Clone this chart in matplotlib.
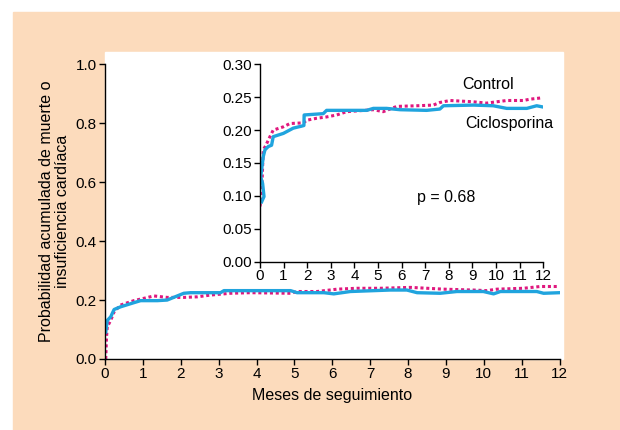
import matplotlib.pyplot as plt
from matplotlib.patches import Rectangle
from matplotlib.ticker import FormatStrFormatter

plt.rcParams["font.family"] = ["Liberation Sans", "DejaVu Sans"]
plt.rcParams["font.size"] = 11

PEACH = "#fcdbbc"
BLUE = "#20a4de"
MAGENTA = "#e0187e"

# Main panel (0-12 months, 0-1.0)
control_x = [0.02, 0.04, 0.06, 0.15, 0.24, 0.41, 0.76, 1.03, 1.29, 1.64, 2.08,
             2.44, 2.79, 3.31, 3.84, 4.9, 5.07, 5.6, 6.13, 6.65, 7.27, 8.07,
             8.94, 9.73, 10.08, 10.35, 11.05, 11.49, 11.95]
control_y = [0.0, 0.074, 0.109, 0.131, 0.16, 0.183, 0.198, 0.206, 0.214, 0.209,
             0.209, 0.211, 0.217, 0.223, 0.225, 0.223, 0.229, 0.229, 0.237,
             0.24, 0.24, 0.243, 0.237, 0.234, 0.232, 0.237, 0.24, 0.246, 0.246]

cyclo_x = [0.02, 0.06, 0.15, 0.24, 0.41, 0.76, 0.94, 1.38, 1.64, 2.08, 2.26,
           3.05, 3.14, 4.9, 5.07, 5.78, 6.04, 6.48, 7.53, 7.97, 8.24, 8.85,
           9.29, 9.99, 10.26, 10.44, 11.4, 11.58, 12.0]
cyclo_y = [0.091, 0.131, 0.143, 0.168, 0.177, 0.191, 0.198, 0.198, 0.2, 0.223,
           0.225, 0.225, 0.232, 0.232, 0.225, 0.225, 0.221, 0.229, 0.234,
           0.234, 0.225, 0.223, 0.229, 0.229, 0.221, 0.229, 0.229, 0.223,
           0.225]

# Inset (zoomed y range 0-0.30)
inset_control_x = [0.0, 0.07, 0.11, 0.14, 0.25, 0.42, 0.56, 0.99, 1.27, 1.84,
                   1.98, 2.4, 2.82, 3.25, 3.67, 4.8, 5.22, 5.79, 6.64, 7.34,
                   7.62, 8.05, 9.04, 9.6, 10.02, 10.45, 11.15, 11.44, 11.93]
inset_control_y = [0.084, 0.104, 0.144, 0.17, 0.177, 0.19, 0.2, 0.205, 0.21,
                   0.211, 0.215, 0.218, 0.22, 0.223, 0.228, 0.231, 0.228,
                   0.236, 0.237, 0.238, 0.242, 0.245, 0.243, 0.241, 0.243,
                   0.245, 0.245, 0.247, 0.249]

inset_cyclo_x = [0.07, 0.17, 0.11, 0.03, 0.14, 0.21, 0.35, 0.49, 0.56, 0.99,
                 1.41, 1.76, 1.86, 1.87, 2.68, 2.82, 4.52, 4.8, 5.36, 5.93,
                 7.06, 7.62, 7.77, 9.04, 9.88, 10.45, 11.3, 11.72, 12.0]
inset_cyclo_y = [0.091, 0.099, 0.119, 0.129, 0.16, 0.17, 0.175, 0.177, 0.19,
                 0.195, 0.203, 0.206, 0.207, 0.223, 0.225, 0.23, 0.23, 0.233,
                 0.233, 0.231, 0.23, 0.232, 0.237, 0.238, 0.237, 0.233, 0.233,
                 0.237, 0.235]

months = list(range(0, 13))
main_yticks = [0.0, 0.2, 0.4, 0.6, 0.8, 1.0]
inset_yticks = [0.0, 0.05, 0.10, 0.15, 0.20, 0.25, 0.30]

W, H = 620, 430
fig = plt.figure(figsize=(W / 100, H / 100), dpi=100, facecolor="white")

# peach panel and white plotting box, in pixel units converted to figure coords
fig.patches.append(Rectangle((13 / W, 0), 1 - 13 / W, 1 - 12 / H,
                             transform=fig.transFigure, color=PEACH, zorder=-2))
fig.patches.append(Rectangle((105 / W, 1 - 359 / H), (563 - 105) / W,
                             (359 - 52) / H, transform=fig.transFigure,
                             color="white", zorder=-1))


def style_axes(ax):
    ax.set_facecolor("none")
    for side in ("top", "right"):
        ax.spines[side].set_visible(False)
    for side in ("left", "bottom"):
        ax.spines[side].set_linewidth(1.0)
    ax.tick_params(direction="out", length=4, width=1, labelsize=11, pad=2)


dotted = (0, (1.0, 0.9))

ax = fig.add_axes([105 / W, 1 - 359 / H, (559.5 - 105) / W, (359 - 64.3) / H])
ax.set_zorder(1)
style_axes(ax)
ax.plot(control_x, control_y, color=MAGENTA, lw=2.2, ls=dotted)
ax.plot(cyclo_x, cyclo_y, color=BLUE, lw=2.4)
ax.set_xlim(0, 12)
ax.set_ylim(0, 1.0)
ax.set_xticks(months)
ax.set_yticks(main_yticks)
ax.yaxis.set_major_formatter(FormatStrFormatter("%.1f"))
ax.set_xlabel("Meses de seguimiento", fontsize=11.5, labelpad=5)
ax.set_ylabel("Probabilidad acumulada de muerte o\ninsuficiencia cardíaca",
              fontsize=11.5, labelpad=4, linespacing=1.05)

ins = fig.add_axes([260 / W, 1 - 261.7 / H, (543.3 - 260) / W,
                    (261.7 - 64.3) / H])
ins.set_zorder(2)
style_axes(ins)
ins.plot(inset_control_x, inset_control_y, color=MAGENTA, lw=2.2, ls=dotted)
ins.plot(inset_cyclo_x, inset_cyclo_y, color=BLUE, lw=2.4)
ins.set_xlim(0, 12)
ins.set_ylim(0, 0.30)
ins.set_xticks(months)
ins.set_yticks(inset_yticks)
ins.yaxis.set_major_formatter(FormatStrFormatter("%.2f"))
ins.tick_params(axis="x", pad=1)

ins.text(9.65, 0.27, "Control", ha="center", va="center", fontsize=11.5)
ins.text(10.55, 0.21, "Ciclosporina", ha="center", va="center", fontsize=11.5)
ins.text(7.9, 0.098, "p = 0.68", ha="center", va="center", fontsize=11.5)

fig.savefig("out.png", dpi=100, facecolor=fig.get_facecolor())
